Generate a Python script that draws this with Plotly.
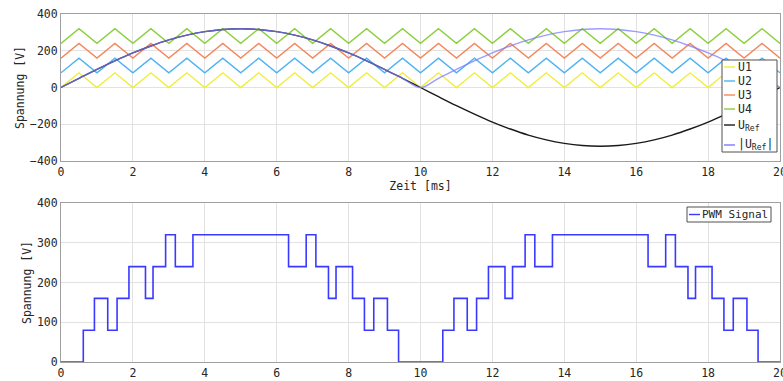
import plotly.graph_objects as go

# ---- data ----
carrier_t = [0, 0.5, 1, 1.5, 2, 2.5, 3, 3.5, 4, 4.5, 5, 5.5, 6, 6.5, 7, 7.5, 8, 8.5, 9, 9.5,
             10, 10.5, 11, 11.5, 12, 12.5, 13, 13.5, 14, 14.5, 15, 15.5, 16, 16.5, 17, 17.5,
             18, 18.5, 19, 19.5, 20]
u1 = [0, 80, 0, 80, 0, 80, 0, 80, 0, 80, 0, 80, 0, 80, 0, 80, 0, 80, 0, 80,
      0, 80, 0, 80, 0, 80, 0, 80, 0, 80, 0, 80, 0, 80, 0, 80, 0, 80, 0, 80, 0]
u2 = [80, 160, 80, 160, 80, 160, 80, 160, 80, 160, 80, 160, 80, 160, 80, 160, 80, 160, 80, 160,
      80, 160, 80, 160, 80, 160, 80, 160, 80, 160, 80, 160, 80, 160, 80, 160, 80, 160, 80, 160, 80]
u3 = [160, 240, 160, 240, 160, 240, 160, 240, 160, 240, 160, 240, 160, 240, 160, 240, 160, 240, 160, 240,
      160, 240, 160, 240, 160, 240, 160, 240, 160, 240, 160, 240, 160, 240, 160, 240, 160, 240, 160, 240, 160]
u4 = [240, 320, 240, 320, 240, 320, 240, 320, 240, 320, 240, 320, 240, 320, 240, 320, 240, 320, 240, 320,
      240, 320, 240, 320, 240, 320, 240, 320, 240, 320, 240, 320, 240, 320, 240, 320, 240, 320, 240, 320, 240]

ref_t = carrier_t
u_ref = [0, 50, 99, 145, 188, 226, 259, 285, 304, 316, 320, 316, 304, 285, 259, 226, 188, 145, 99, 50,
         0, -50, -99, -145, -188, -226, -259, -285, -304, -316, -320, -316, -304, -285, -259, -226,
         -188, -145, -99, -50, 0]
u_ref_abs = [0, 50, 99, 145, 188, 226, 259, 285, 304, 316, 320, 316, 304, 285, 259, 226, 188, 145, 99, 50,
             0, 50, 99, 145, 188, 226, 259, 285, 304, 316, 320, 316, 304, 285, 259, 226,
             188, 145, 99, 50, 0]

pwm_t = [0, 0.62, 0.93, 1.30, 1.56, 1.89, 2.35, 2.56, 2.91, 3.18, 3.67, 6.33, 6.82, 7.09, 7.44,
         7.65, 8.11, 8.44, 8.70, 9.08, 9.39, 10.62, 10.93, 11.30, 11.56, 11.89, 12.35, 12.56,
         12.91, 13.18, 13.67, 16.33, 16.82, 17.09, 17.44, 17.65, 18.11, 18.44, 18.70, 19.08,
         19.39, 20]
pwm_v = [0, 80, 160, 80, 160, 240, 160, 240, 320, 240, 320, 240, 320, 240, 160,
         240, 160, 80, 160, 80, 0, 80, 160, 80, 160, 240, 160, 240,
         320, 240, 320, 240, 320, 240, 160, 240, 160, 80, 160, 80,
         0, 0]

x_ticks = [0, 2, 4, 6, 8, 10, 12, 14, 16, 18, 20]
y_ticks_top = [-400, -200, 0, 200, 400]
y_ticks_bot = [0, 100, 200, 300, 400]

top_names = ["U1", "U2", "U3", "U4", "U<sub>Ref</sub>", "|U<sub>Ref</sub>|"]
top_colors = ["#eeee3a", "#4db3f2", "#f5875c", "#8ccf3e", "#1a1a1a", "#7b7bff"]
pwm_name = "PWM Signal"
pwm_color = "#3a3aff"

# ---- figure ----
FONT = "DejaVu Sans Mono"
TXT = "#262626"
W, H = 783, 381
L, R, T, B = 61, 3, 14, 19
PW, PH = W - L - R, H - T - B


def px(xp):
    return (xp - L) / PW


def py(yp):
    return (H - B - yp) / PH


fig = go.Figure()
lw = 1.4
top_series = [u1, u2, u3, u4]
for name, col, ys in zip(top_names[:4], top_colors[:4], top_series):
    fig.add_trace(go.Scatter(x=carrier_t, y=ys, mode="lines", name=name,
                             line=dict(color=col, width=lw), xaxis="x", yaxis="y"))
fig.add_trace(go.Scatter(x=ref_t, y=u_ref, mode="lines", name=top_names[4],
                         line=dict(color=top_colors[4], width=lw, shape="spline"),
                         xaxis="x", yaxis="y"))
fig.add_trace(go.Scatter(x=ref_t, y=u_ref_abs, mode="lines", name=top_names[5],
                         line=dict(color=top_colors[5], width=lw, shape="spline"), opacity=0.75,
                         xaxis="x", yaxis="y"))
fig.add_trace(go.Scatter(x=pwm_t, y=pwm_v, mode="lines", name=pwm_name,
                         line=dict(color=pwm_color, width=1.6, shape="hv"),
                         xaxis="x2", yaxis="y2"))

axis_common = dict(showline=True, mirror=True, linecolor="#a0a0a0", linewidth=1,
                   showgrid=True, gridcolor="#e2e2e2", gridwidth=1, zeroline=False,
                   tickfont=dict(family=FONT, size=11.5, color=TXT), ticks="",
                   fixedrange=True, automargin=False, ticklabeloverflow="allow")

top_dom = [py(161), 1]
bot_dom = [0, py(203)]

shapes = []
annotations = []

# custom legend, top plot
shapes.append(dict(type="rect", xref="paper", yref="paper",
                   x0=px(722), x1=px(777), y0=py(152), y1=py(60),
                   line=dict(color="#505050", width=1), fillcolor="white", layer="above"))
leg_y = [67, 81, 95, 109, 125, 145]
for name, col, yy in zip(top_names, top_colors, leg_y):
    shapes.append(dict(type="line", xref="paper", yref="paper",
                       x0=px(724), x1=px(735), y0=py(yy), y1=py(yy),
                       line=dict(color=col, width=1.4), layer="above"))
    annotations.append(dict(xref="paper", yref="paper", x=px(736), y=py(yy),
                            xanchor="left", yanchor="middle", showarrow=False,
                            text=name, font=dict(family=FONT, size=11.5, color=TXT)))

# custom legend, bottom plot
shapes.append(dict(type="rect", xref="paper", yref="paper",
                   x0=px(687), x1=px(771), y0=py(222), y1=py(207),
                   line=dict(color="#505050", width=1), fillcolor="white", layer="above"))
shapes.append(dict(type="line", xref="paper", yref="paper",
                   x0=px(689), x1=px(700), y0=py(214.5), y1=py(214.5),
                   line=dict(color=pwm_color, width=1.4), layer="above"))
annotations.append(dict(xref="paper", yref="paper", x=px(700), y=py(214.5),
                        xanchor="left", yanchor="middle", showarrow=False,
                        text=pwm_name, font=dict(family=FONT, size=11, color=TXT)))

fig.update_layout(
    width=W, height=H,
    margin=dict(l=L, r=R, t=T, b=B),
    paper_bgcolor="white", plot_bgcolor="white",
    font=dict(family=FONT, color=TXT, size=11.5),
    showlegend=False,
    xaxis=dict(domain=[0, 1], range=[0, 20], tickvals=x_ticks, anchor="y",
               title=dict(text="Zeit [ms]", standoff=0, font=dict(size=11.5)), **axis_common),
    yaxis=dict(domain=top_dom, range=[-400, 400], tickvals=y_ticks_top, anchor="x",
               title=dict(text="Spannung [V]", standoff=2, font=dict(size=11.5)), **axis_common),
    xaxis2=dict(domain=[0, 1], range=[0, 20], tickvals=x_ticks, anchor="y2", **axis_common),
    yaxis2=dict(domain=bot_dom, range=[0, 400], tickvals=y_ticks_bot, anchor="x2",
                title=dict(text="Spannung [V]", standoff=2, font=dict(size=11.5)), **axis_common),
    shapes=shapes,
    annotations=annotations,
)

fig.write_html(
    "out.html",
    config={"displayModeBar": False, "staticPlot": True},
    post_script="document.body.style.margin='0';document.body.style.padding='0';"
                "document.body.style.overflow='hidden';",
)
